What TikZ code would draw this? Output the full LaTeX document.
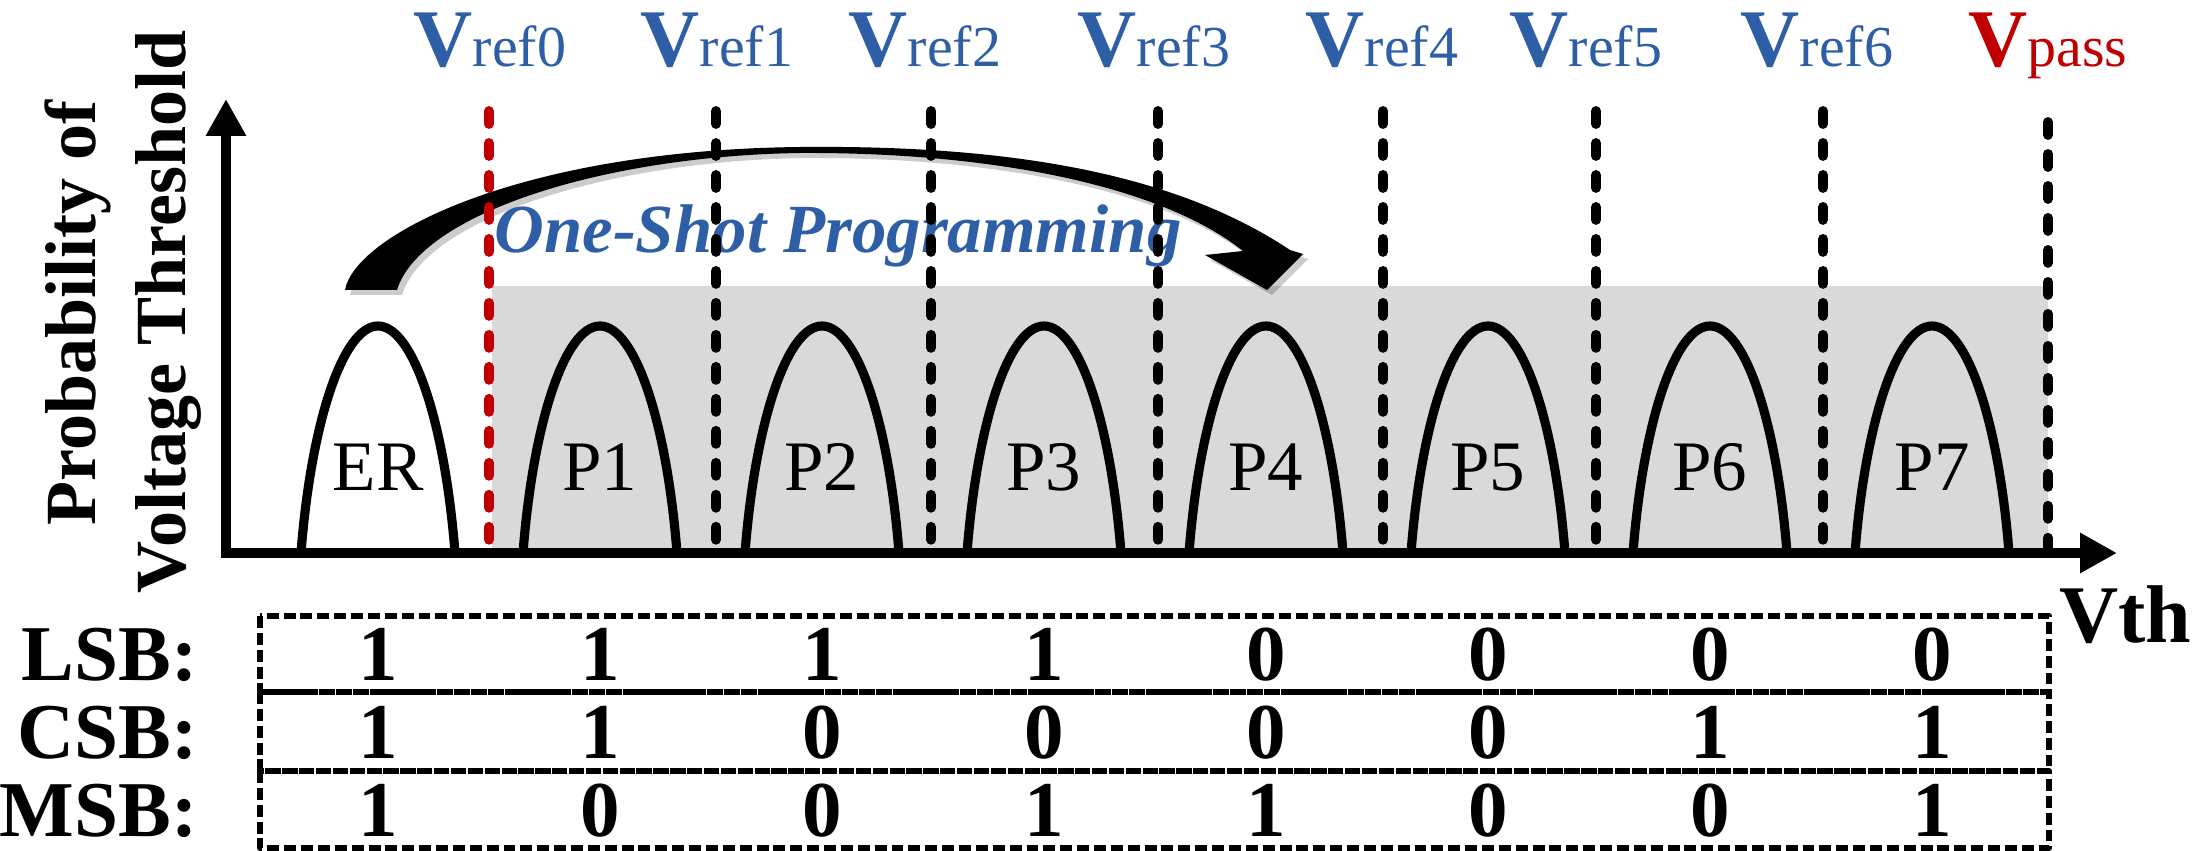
\documentclass[tikz,border=0pt]{standalone}
\usepackage{fontspec}
\setmainfont{Liberation Serif}
\usepackage{tikz}
\usetikzlibrary{arrows}
\usetikzlibrary{arrows.meta}
\definecolor{refblue}{RGB}{46,95,166}
\definecolor{refred}{RGB}{192,0,0}
\definecolor{bandgray}{RGB}{217,217,217}
\newcommand{\vreflabel}[1]{{\fontsize{23.3}{28}\selectfont\bfseries V}{\fontsize{16.5}{20}\selectfont #1}}
\newcommand{\shotarrow}{(345,-290) .. controls (355,-235) and (520,-150) .. (800,-147) .. controls (1000,-145) and (1170,-170) .. (1290,-250) -- (1303,-254) -- (1267,-290) -- (1205,-255) -- (1243,-251) .. controls (1160,-185) and (990,-152) .. (800,-153) .. controls (600,-156) and (420,-215) .. (397,-290) -- cycle}
\tikzset{
  hump/.style={line width=2.6pt},
  refline/.style={line width=2.8pt,dash pattern=on 3.7pt off 5.4pt,line cap=round},
  tablebox/.style={line width=1.7pt,dash pattern=on 3.4pt off 1.4pt,line cap=butt},
  humplabel/.style={anchor=base,font=\fontsize{20.2}{24}\selectfont},
  bitlabel/.style={anchor=base,font=\fontsize{22.5}{27}\selectfont\bfseries},
  axislabel/.style={anchor=base,rotate=90,font=\fontsize{20.5}{25}\selectfont\bfseries}
}
\begin{document}
\begin{tikzpicture}[line cap=round,line join=round,>=triangle 45,x=0.1mm,y=0.1mm]
\useasboundingbox (0,0) rectangle (2200,-851);
% programmed states band
\fill [color=bandgray] (492,-286) rectangle (2048,-553);
% distributions
\draw [hump] (301,-553) .. controls (311,-423) and (343,-326) .. (378,-326) .. controls (413,-326) and (445,-423) .. (455,-553);
\draw [hump] (523,-553) .. controls (533,-423) and (565,-326) .. (600,-326) .. controls (635,-326) and (667,-423) .. (677,-553);
\draw [hump] (745,-553) .. controls (755,-423) and (787,-326) .. (822,-326) .. controls (857,-326) and (889,-423) .. (899,-553);
\draw [hump] (967,-553) .. controls (977,-423) and (1009,-326) .. (1044,-326) .. controls (1079,-326) and (1111,-423) .. (1121,-553);
\draw [hump] (1189,-553) .. controls (1199,-423) and (1231,-326) .. (1266,-326) .. controls (1301,-326) and (1333,-423) .. (1343,-553);
\draw [hump] (1411,-553) .. controls (1421,-423) and (1453,-326) .. (1488,-326) .. controls (1523,-326) and (1555,-423) .. (1565,-553);
\draw [hump] (1633,-553) .. controls (1643,-423) and (1675,-326) .. (1710,-326) .. controls (1745,-326) and (1777,-423) .. (1787,-553);
\draw [hump] (1855,-553) .. controls (1865,-423) and (1897,-326) .. (1932,-326) .. controls (1967,-326) and (1999,-423) .. (2009,-553);
\draw[color=black] (378,-490) node[humplabel] (er) {ER};
\draw[color=black] (600,-490) node[humplabel] (p1) {P1};
\draw[color=black] (822,-490) node[humplabel] (p2) {P2};
\draw[color=black] (1044,-490) node[humplabel] (p3) {P3};
\draw[color=black] (1266,-490) node[humplabel] (p4) {P4};
\draw[color=black] (1488,-490) node[humplabel] (p5) {P5};
\draw[color=black] (1710,-490) node[humplabel] (p6) {P6};
\draw[color=black] (1932,-490) node[humplabel] (p7) {P7};
% one-shot arrow
\fill [color=black, opacity=0.2, shift={(5,-5)}] \shotarrow;
\fill [color=black] \shotarrow;
\draw[color=refblue] (482,-253) node[anchor=base west,font=\fontsize{19.6}{24}\selectfont\bfseries\itshape] (oneshot) {One-Shot Programming};
% read reference voltages
\draw [refline, color=refred] (489,-111)-- (489,-553);
\draw [refline] (716,-111)-- (716,-553);
\draw [refline] (931,-111)-- (931,-553);
\draw [refline] (1158,-111)-- (1158,-553);
\draw [refline] (1383,-111)-- (1383,-553);
\draw [refline] (1596,-111)-- (1596,-553);
\draw [refline] (1823,-111)-- (1823,-553);
\draw [refline] (2048,-122)-- (2048,-553);
\draw[color=refblue] (490,-67) node[anchor=base] (vref0) {\vreflabel{ref0}};
\draw[color=refblue] (717,-67) node[anchor=base] (vref1) {\vreflabel{ref1}};
\draw[color=refblue] (925,-67) node[anchor=base] (vref2) {\vreflabel{ref2}};
\draw[color=refblue] (1154,-67) node[anchor=base] (vref3) {\vreflabel{ref3}};
\draw[color=refblue] (1382,-67) node[anchor=base] (vref4) {\vreflabel{ref4}};
\draw[color=refblue] (1586,-67) node[anchor=base] (vref5) {\vreflabel{ref5}};
\draw[color=refblue] (1817,-67) node[anchor=base] (vref6) {\vreflabel{ref6}};
\draw[color=refred] (2048,-67) node[anchor=base] (vpass) {\vreflabel{pass}};
% axes
\coordinate (ytip) at (226,-99);
\coordinate (xtip) at (2117,-553);
\draw [line width=2.8pt, line join=miter, line cap=butt, {Triangle[length=3.7mm,width=3.8mm]}-{Triangle[length=3.7mm,width=3.8mm]}] (ytip) |- (xtip);
\draw[color=black] (95,-313) node[axislabel] (ylab1) {Probability of};
\draw[color=black] (185,-312) node[axislabel] (ylab2) {Voltage Threshold};
\draw[color=black] (2047,-642) node[bitlabel,anchor=base west,font=\fontsize{23.3}{28}\selectfont\bfseries] (vth) {Vth};
% page bits
\draw [tablebox] (260,-616) rectangle (2049,-692);
\draw [tablebox] (260,-692) rectangle (2049,-771);
\draw [tablebox] (260,-771) rectangle (2049,-848);
\draw[color=black] (210,-680) node[bitlabel,anchor=base east] (lsb) {LSB:};
\draw[color=black] (210,-758) node[bitlabel,anchor=base east] (csb) {CSB:};
\draw[color=black] (210,-836) node[bitlabel,anchor=base east] (msb) {MSB:};
\draw[color=black] (378,-680) node[bitlabel] (l0) {1};
\draw[color=black] (600,-680) node[bitlabel] (l1) {1};
\draw[color=black] (822,-680) node[bitlabel] (l2) {1};
\draw[color=black] (1044,-680) node[bitlabel] (l3) {1};
\draw[color=black] (1266,-680) node[bitlabel] (l4) {0};
\draw[color=black] (1488,-680) node[bitlabel] (l5) {0};
\draw[color=black] (1710,-680) node[bitlabel] (l6) {0};
\draw[color=black] (1932,-680) node[bitlabel] (l7) {0};
\draw[color=black] (378,-758) node[bitlabel] (c0) {1};
\draw[color=black] (600,-758) node[bitlabel] (c1) {1};
\draw[color=black] (822,-758) node[bitlabel] (c2) {0};
\draw[color=black] (1044,-758) node[bitlabel] (c3) {0};
\draw[color=black] (1266,-758) node[bitlabel] (c4) {0};
\draw[color=black] (1488,-758) node[bitlabel] (c5) {0};
\draw[color=black] (1710,-758) node[bitlabel] (c6) {1};
\draw[color=black] (1932,-758) node[bitlabel] (c7) {1};
\draw[color=black] (378,-836) node[bitlabel] (m0) {1};
\draw[color=black] (600,-836) node[bitlabel] (m1) {0};
\draw[color=black] (822,-836) node[bitlabel] (m2) {0};
\draw[color=black] (1044,-836) node[bitlabel] (m3) {1};
\draw[color=black] (1266,-836) node[bitlabel] (m4) {1};
\draw[color=black] (1488,-836) node[bitlabel] (m5) {0};
\draw[color=black] (1710,-836) node[bitlabel] (m6) {0};
\draw[color=black] (1932,-836) node[bitlabel] (m7) {1};
\end{tikzpicture}
\end{document}
